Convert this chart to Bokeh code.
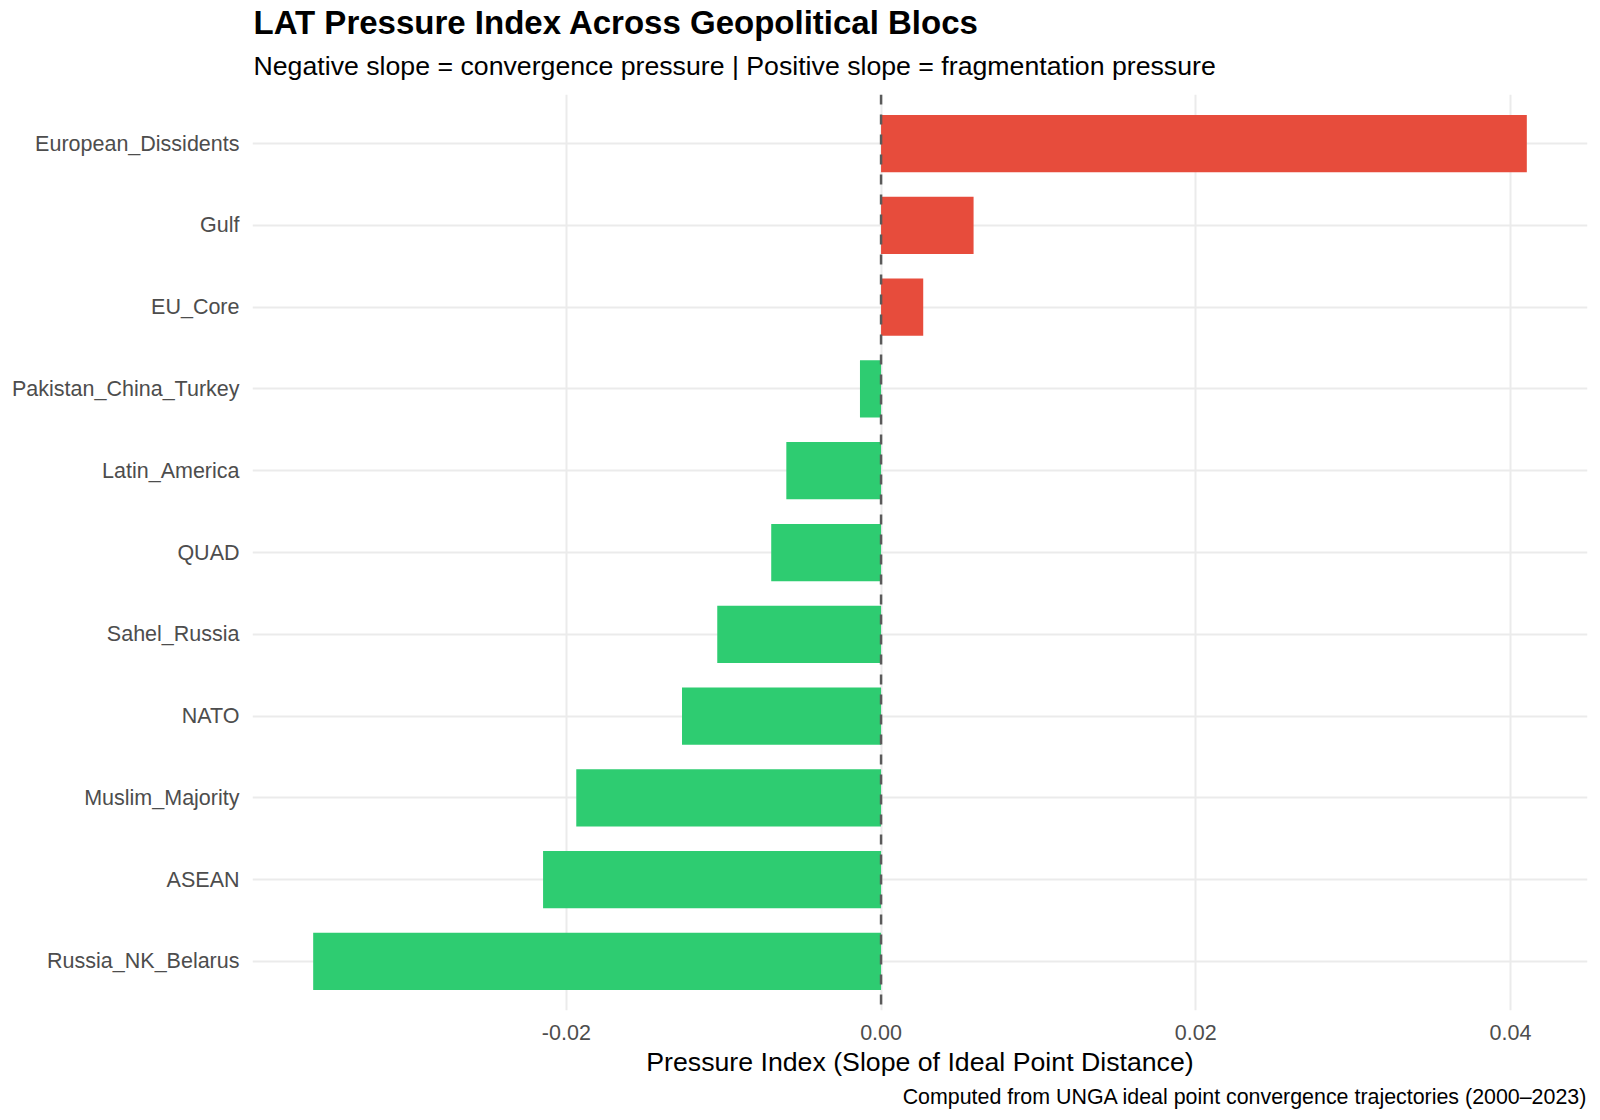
from bokeh.plotting import figure
from bokeh.models import FactorRange, Range1d, Span, Title, FixedTicker, NumeralTickFormatter
from bokeh.embed import file_html
from bokeh.resources import INLINE

# ---- data (top to bottom as shown) ----
blocs = ["European_Dissidents", "Gulf", "EU_Core", "Pakistan_China_Turkey",
         "Latin_America", "QUAD", "Sahel_Russia", "NATO", "Muslim_Majority",
         "ASEAN", "Russia_NK_Belarus"]
pressure = [0.04104, 0.00588, 0.00268, -0.00134, -0.00602, -0.00698,
            -0.01041, -0.01265, -0.01937, -0.02148, -0.03609]
x_ticks = [-0.02, 0.0, 0.02, 0.04]

title = "LAT Pressure Index Across Geopolitical Blocs"
subtitle = "Negative slope = convergence pressure | Positive slope = fragmentation pressure"
x_label = "Pressure Index (Slope of Ideal Point Distance)"
caption = "Computed from UNGA ideal point convergence trajectories (2000\u20132023)"

POS = "#E74C3C"
NEG = "#2ECC71"
FONT = "Liberation Sans"

colors = [POS if v > 0 else NEG for v in pressure]

span_v = max(pressure) - min(pressure)
x_range = Range1d(min(pressure) - 0.05 * span_v, max(pressure) + 0.05 * span_v)
y_range = FactorRange(factors=list(reversed(blocs)), range_padding=0.1,
                      range_padding_units="absolute")

p = figure(width=1592, height=1112, x_range=x_range, y_range=y_range,
           output_backend="svg", toolbar_location=None,
           min_border_left=252, min_border_right=5, min_border_top=94,
           min_border_bottom=102)
p.title = None
p.outline_line_color = None
p.background_fill_color = "white"
p.border_fill_color = "white"

p.hbar(y=blocs, left=0, right=pressure, height=0.7, fill_color=colors,
       line_color=None)

p.add_layout(Span(location=0, dimension="height", line_color="#5A5A5A",
                  line_width=2.5, line_dash="10 10"))

# axes
p.xaxis.ticker = FixedTicker(ticks=x_ticks)
p.xaxis.formatter = NumeralTickFormatter(format="0.00")
for ax in (p.xaxis[0], p.yaxis[0]):
    ax.axis_line_color = None
    ax.major_tick_line_color = None
    ax.minor_tick_line_color = None
    ax.major_tick_out = 0
    ax.major_tick_in = 0
    ax.minor_tick_out = 0
    ax.major_label_text_font = FONT
    ax.major_label_text_font_size = "21.5px"
    ax.major_label_text_color = "#4D4D4D"
p.xaxis.major_label_standoff = 14
p.yaxis.major_label_standoff = 13
p.xaxis.axis_label = x_label
p.xaxis.axis_label_text_font = FONT
p.xaxis.axis_label_text_font_size = "26.7px"
p.xaxis.axis_label_text_font_style = "normal"
p.xaxis.axis_label_text_color = "black"
p.xaxis.axis_label_standoff = 4

# grids
p.xgrid.ticker = FixedTicker(ticks=x_ticks)
p.xgrid.grid_line_color = "#EBEBEB"
p.xgrid.grid_line_width = 2
p.ygrid.grid_line_color = "#EBEBEB"
p.ygrid.grid_line_width = 2

# titles (first added sits closest to the frame)
p.add_layout(Title(text=subtitle, align="left", offset=1, standoff=26.8,
                   vertical_align="bottom", text_font=FONT,
                   text_font_size="26.7px", text_font_style="normal",
                   text_color="black"), "above")
p.add_layout(Title(text=title, align="left", offset=1, standoff=-10,
                   vertical_align="bottom", text_font=FONT,
                   text_font_size="33px", text_font_style="bold",
                   text_color="black"), "above")
p.add_layout(Title(text=caption, align="right", offset=0, standoff=7,
                   vertical_align="bottom", text_font=FONT,
                   text_font_size="21.4px", text_font_style="normal",
                   text_color="black"), "below")

open("out.html", "w").write(file_html(p, INLINE))
